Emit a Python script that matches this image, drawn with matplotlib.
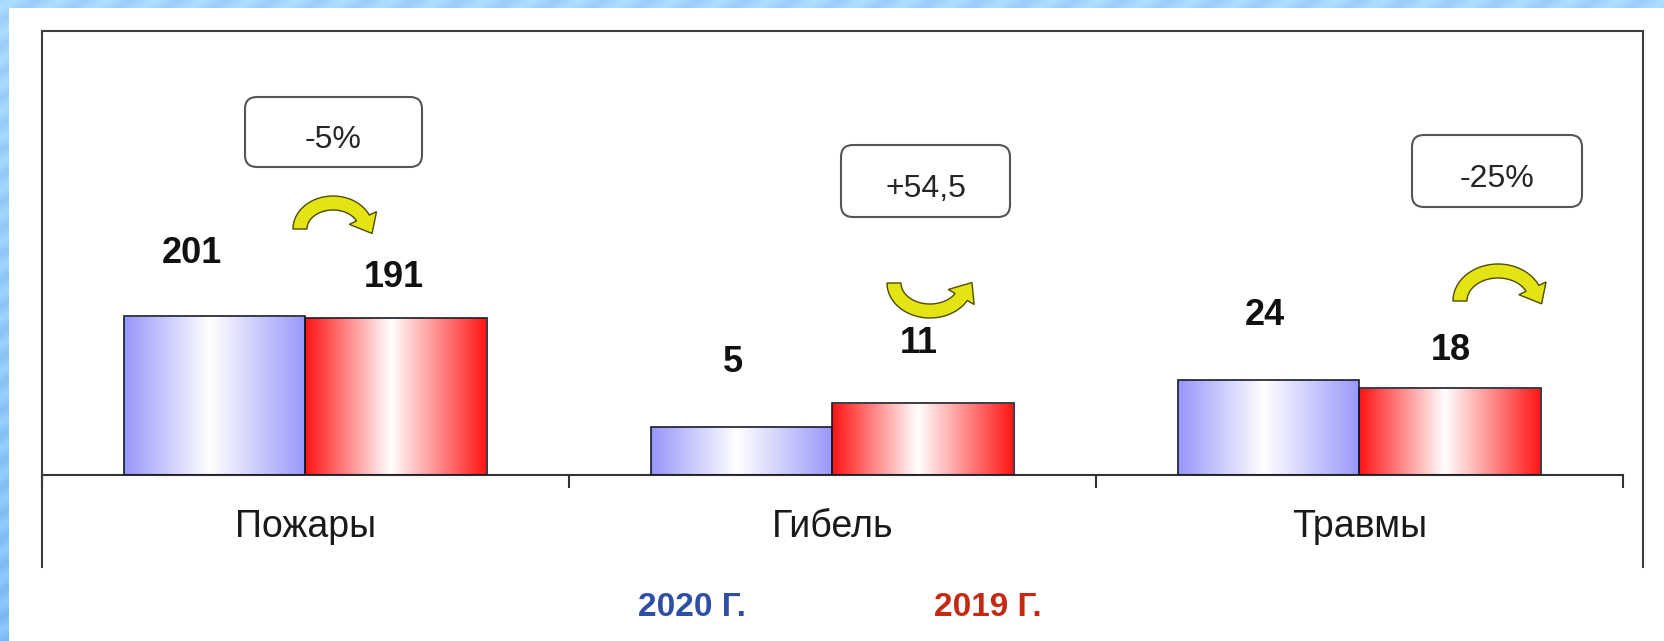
import numpy as np
import matplotlib
matplotlib.use("Agg")
import matplotlib.pyplot as plt
import matplotlib.patches as mpatches
from matplotlib.colors import LinearSegmentedColormap
from matplotlib.ticker import NullLocator
from matplotlib.transforms import blended_transform_factory

categories = ["Пожары", "Гибель", "Травмы"]
values_2020 = [201, 5, 24]
values_2019 = [191, 11, 18]
changes = ["-5%", "+54,5", "-25%"]
years = ["2020 Г.", "2019 Г."]

W, H = 1665, 641
plt.rcParams["font.family"] = ["Liberation Sans", "DejaVu Sans"]

fig = plt.figure(figsize=(W / 100, H / 100), dpi=100)

# ── background: bluish streaks + white slide panel ──────────────────────────
bg = fig.add_axes([0, 0, 1, 1], zorder=0)
bg.set_xlim(0, W); bg.set_ylim(H, 0); bg.axis("off")
yy, xx = np.mgrid[0:H:2, 0:W:2]
stripes = 0.5 + 0.5 * np.sin(2 * np.pi * (xx * 0.55 + yy) / 26)
shade = (yy / H)[..., None]
img = np.array([0.62, 0.81, 0.97]) * (1 - shade) + np.array([0.48, 0.72, 0.95]) * shade
img = np.clip(img + 0.06 * stripes[..., None], 0, 1)
bg.imshow(img, extent=[0, W, H, 0], aspect="auto", interpolation="bilinear")
bg.add_patch(mpatches.Rectangle((9, 8), W - 9, H - 8, facecolor="white", edgecolor="none"))

# ── main chart (log scale, like the original Excel chart) ──────────────────
x0p, x1p, ytop, ybase = 42, 1623, 31, 475
PX_DEC = 69.0
ax = fig.add_axes([x0p / W, 1 - ybase / H, (x1p - x0p) / W, (ybase - ytop) / H], zorder=1)
ax.patch.set_alpha(0)
ax.set_yscale("log")

w = 0.345
x = np.arange(len(categories))
grad = np.linspace(0, 1, 256)[None, :]
cmap_b = LinearSegmentedColormap.from_list("b", [(0, "#9797fb"), (0.47, "#ffffff"), (1, "#9797fb")])
cmap_r = LinearSegmentedColormap.from_list("r", [(0, "#ff1414"), (0.47, "#ffffff"), (1, "#ff1414")])

for xs, vals, cmap in [(x - w / 2, values_2020, cmap_b), (x + w / 2, values_2019, cmap_r)]:
    bars = ax.bar(xs, np.array(vals) - 1, bottom=1, width=w, facecolor="none",
                  edgecolor="#1a1a2a", lw=1.2, zorder=3)
    for b in bars:
        bx0 = b.get_x()
        im = ax.imshow(grad, cmap=cmap, extent=[bx0, bx0 + b.get_width(), 1, b.get_y() + b.get_height()],
                       aspect="auto", zorder=2, interpolation="bilinear")
        im.set_clip_path(b)

ax.set_xlim(-0.5, len(categories) - 0.5)
ax.set_ylim(1, 10 ** ((ybase - ytop) / PX_DEC))

# value labels
off_2020 = [(-16, 45), (-6, 46), (-3, 46)]
off_2019 = [(-2, 29), (-3, 43), (0, 27)]
for xs, vals, offs in [(x - w / 2, values_2020, off_2020), (x + w / 2, values_2019, off_2019)]:
    for xi, v, o in zip(xs, vals, offs):
        ax.annotate(str(v), (xi, v), xytext=o, textcoords="offset points",
                    ha="center", va="center", fontsize=26, fontweight="bold", color="#111111")

tr = blended_transform_factory(ax.transData, ax.transAxes)
for xi, c in zip(x, categories):
    ax.text(xi, -52 / (ybase - ytop), c, transform=tr, ha="center", va="center",
            fontsize=27, color="#1a1a1a")

ax.set_xticks(np.arange(-0.5, len(categories), 1.0))
ax.set_xticklabels([])
ax.tick_params(axis="x", direction="out", length=9.4, width=1.5, color="#333333")
ax.yaxis.set_major_locator(NullLocator())
ax.yaxis.set_minor_locator(NullLocator())
for s in ["top", "left", "right"]:
    ax.spines[s].set_visible(False)
ax.spines["bottom"].set_color("#333333")
ax.spines["bottom"].set_linewidth(1.5)

# ── overlay: chart frame, change boxes, arrows, year captions ──────────────
ov = fig.add_axes([0, 0, 1, 1], zorder=5)
ov.set_xlim(0, W); ov.set_ylim(H, 0); ov.axis("off")
ov.plot([42, 42, 1643, 1643], [567, 31, 31, 567], color="#3c3c3c", lw=1.5,
        solid_joinstyle="miter")

boxes = [(245, 97, 177, 70), (841, 145, 169, 72), (1412, 135, 170, 72)]
for (bx, by, bw, bh), t in zip(boxes, changes):
    ov.add_patch(mpatches.FancyBboxPatch((bx, by), bw, bh,
                 boxstyle="round,pad=0,rounding_size=12",
                 facecolor="white", edgecolor="#555555", lw=1.5))
    ov.text(bx + bw / 2, by + bh / 2 + 8, t, ha="center", va="center",
            fontsize=23, color="#262626")


def curved_arrow(cx, cy, rx, ry, th0, th1, thick=14, head_len=18, head_w=30):
    """Thick elliptical arc arrow in pixel coords (angles in degrees, y-up sense)."""
    th = np.radians(np.linspace(th0, th1, 60))
    ox = cx + (rx + thick / 2) * np.cos(th); oy = cy - (ry + thick / 2) * np.sin(th)
    ix = cx + (rx - thick / 2) * np.cos(th); iy = cy - (ry - thick / 2) * np.sin(th)
    t1 = th[-1]
    px, py = cx + rx * np.cos(t1), cy - ry * np.sin(t1)
    sgn = np.sign(th1 - th0)
    tx, ty = sgn * -rx * np.sin(t1), sgn * ry * np.cos(t1)
    n = np.hypot(tx, ty); tx, ty = tx / n, -ty / n
    nx, ny = ox[-1] - ix[-1], oy[-1] - iy[-1]
    n = np.hypot(nx, ny); nx, ny = nx / n, ny / n
    pts = list(zip(ox, oy))
    pts += [(px + nx * head_w / 2, py + ny * head_w / 2),
            (px + tx * head_len, py + ty * head_len),
            (px - nx * head_w / 2, py - ny * head_w / 2)]
    pts += list(zip(ix[::-1], iy[::-1]))
    ov.add_patch(mpatches.Polygon(pts, closed=True, facecolor="#e4e414",
                                  edgecolor="#4d4d00", lw=1, joinstyle="miter"))


curved_arrow(333, 229, 33, 26, 180, 25)
curved_arrow(930, 283, 36, 28, 180, 330)
curved_arrow(1498, 301, 38, 30, 180, 25)

ov.text(692, 608, years[0], ha="center", va="center", fontsize=24,
        fontweight="bold", color="#2f4ea5")
ov.text(988, 608, years[1], ha="center", va="center", fontsize=24,
        fontweight="bold", color="#c42a12")

fig.savefig("out.png", dpi=100)
